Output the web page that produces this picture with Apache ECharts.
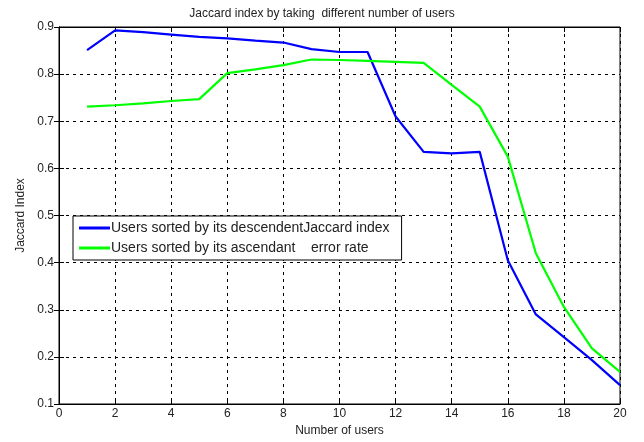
<!DOCTYPE html>
<html>
<head>
<meta charset="utf-8">
<script src="https://cdn.jsdelivr.net/npm/echarts@6/dist/echarts.min.js"></script>
<style>html,body{margin:0;padding:0;background:#fff;}#c{width:644px;height:442px;}</style>
</head>
<body>
<div id="c"></div>
<script>
const users = [1,2,3,4,5,6,7,8,9,10,11,12,13,14,15,16,17,18,19,20];
const descJaccard = [0.851,0.893,0.889,0.884,0.879,0.876,0.871,0.867,0.853,0.847,0.847,0.71,0.635,0.632,0.635,0.405,0.29,0.242,0.193,0.14];
const ascError = [0.731,0.734,0.738,0.743,0.747,0.802,0.81,0.819,0.831,0.83,0.828,0.826,0.824,0.777,0.731,0.625,0.42,0.306,0.218,0.168];
const seriesNames = ['Users sorted by its descendentJaccard index', 'Users sorted by its ascendant    error rate'];
const xTicks = {min:0, max:20, step:2};
const yTicks = {min:0.1, max:0.9, step:0.1};

const font = 'Liberation Sans, Arial, sans-serif';
const chart = echarts.init(document.getElementById('c'));
const axisCommon = {
  axisLine:{show:true, onZero:false, lineStyle:{color:'#000', width:1}},
  axisTick:{show:true, inside:true, length:5, lineStyle:{color:'#000'}},
  splitLine:{show:true, lineStyle:{color:'#000', type:[3,4], width:1}}
};
chart.setOption({
  animation:false,
  backgroundColor:'#fff',
  title:{text:'Jaccard index by taking  different number of users', left:'center', top:3,
    textStyle:{fontFamily:font, fontSize:12, fontWeight:'normal', color:'#222'}},
  grid:{left:59, right:24, top:27, bottom:38, show:true, borderColor:'#000', borderWidth:1},
  legend:{orient:'vertical', left:73, top:216, padding:[4,12,4,6], itemGap:4,
    backgroundColor:'#fff', borderColor:'#000', borderWidth:1, itemWidth:31, itemHeight:3,
    icon:'rect',
    data:seriesNames,
    textStyle:{fontFamily:font, fontSize:14, lineHeight:16, color:'#222', padding:[0,0,0,-4]}},
  xAxis:[{type:'value', min:xTicks.min, max:xTicks.max, interval:xTicks.step,
    name:'Number of users', nameLocation:'middle', nameGap:21,
    nameTextStyle:{fontFamily:font, fontSize:12, color:'#222'},
    axisLabel:{fontFamily:font, fontSize:12, color:'#222', margin:4},
    ...axisCommon},
   {type:'value', position:'top', min:xTicks.min, max:xTicks.max, interval:xTicks.step,
    axisLabel:{show:false}, splitLine:{show:false},
    axisLine:{show:true, lineStyle:{color:'#000'}},
    axisTick:{show:true, inside:true, length:5, lineStyle:{color:'#000'}}}],
  yAxis:[{type:'value', min:yTicks.min, max:yTicks.max, interval:yTicks.step,
    name:'Jaccard Index', nameLocation:'middle', nameGap:32,
    nameTextStyle:{fontFamily:font, fontSize:12, color:'#222'},
    axisLabel:{fontFamily:font, fontSize:12, color:'#222', margin:5, formatter:v=>v.toFixed(1)},
    ...axisCommon},
   {type:'value', position:'right', min:yTicks.min, max:yTicks.max, interval:yTicks.step,
    axisLabel:{show:false}, splitLine:{show:false},
    axisLine:{show:true, lineStyle:{color:'#000'}},
    axisTick:{show:true, inside:true, length:5, lineStyle:{color:'#000'}}}],
  series:[
    {name:seriesNames[0], type:'line', data:users.map((u,i)=>[u,descJaccard[i]]),
     showSymbol:false, symbol:'none', lineStyle:{color:'#0000ff', width:2.2}, itemStyle:{color:'#0000ff'}},
    {name:seriesNames[1], type:'line', data:users.map((u,i)=>[u,ascError[i]]),
     showSymbol:false, symbol:'none', lineStyle:{color:'#00ff00', width:2.2}, itemStyle:{color:'#00ff00'}}
  ]
});
</script>
</body>
</html>
